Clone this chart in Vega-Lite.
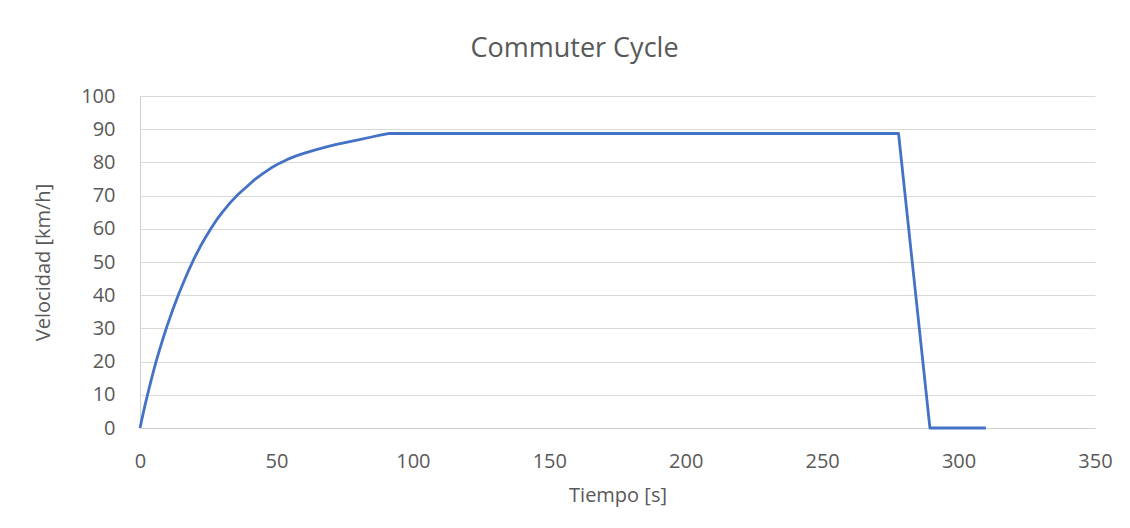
{
  "$schema": "https://vega.github.io/schema/vega-lite/v6.json",
  "width": 955,
  "height": 332,
  "autosize": {"type": "none"},
  "padding": {"left": 140, "top": 96, "right": 35, "bottom": 100},
  "background": "white",
  "title": {
    "text": "Commuter Cycle",
    "font": "Open Sans",
    "fontSize": 27,
    "fontWeight": "normal",
    "color": "#595959",
    "anchor": "middle",
    "baseline": "alphabetic",
    "dx": -43,
    "offset": 2
  },
  "data": {
    "values": [
      {"t": 0, "v": 0},
      {"t": 1, "v": 3.8},
      {"t": 2, "v": 7.4},
      {"t": 3, "v": 10.8},
      {"t": 4, "v": 14.1},
      {"t": 5, "v": 17.3},
      {"t": 6, "v": 20.3},
      {"t": 7, "v": 23.1},
      {"t": 8, "v": 25.8},
      {"t": 9, "v": 28.4},
      {"t": 10, "v": 30.9},
      {"t": 12, "v": 35.6},
      {"t": 14, "v": 40.0},
      {"t": 16, "v": 44.0},
      {"t": 18, "v": 47.8},
      {"t": 20, "v": 51.3},
      {"t": 22, "v": 54.5},
      {"t": 24, "v": 57.4},
      {"t": 26, "v": 60.1},
      {"t": 28, "v": 62.6},
      {"t": 30, "v": 64.8},
      {"t": 33, "v": 67.8},
      {"t": 36, "v": 70.4},
      {"t": 39, "v": 72.6},
      {"t": 42, "v": 74.8},
      {"t": 45, "v": 76.6},
      {"t": 48, "v": 78.3},
      {"t": 51, "v": 79.7},
      {"t": 54, "v": 80.9},
      {"t": 57, "v": 81.9},
      {"t": 60, "v": 82.7},
      {"t": 64, "v": 83.7},
      {"t": 68, "v": 84.6},
      {"t": 72, "v": 85.4},
      {"t": 76, "v": 86.1},
      {"t": 80, "v": 86.8},
      {"t": 84, "v": 87.5},
      {"t": 88, "v": 88.2},
      {"t": 91, "v": 88.7},
      {"t": 278, "v": 88.7},
      {"t": 289.5, "v": 0},
      {"t": 310, "v": 0}
    ]
  },
  "mark": {"type": "line", "color": "#4472C4", "strokeWidth": 2.8, "interpolate": "linear", "strokeJoin": "round", "clip": false},
  "encoding": {
    "x": {
      "field": "t",
      "type": "quantitative",
      "scale": {"domain": [0, 350], "nice": false, "zero": false},
      "axis": {
        "title": "Tiempo [s]",
        "values": [0, 50, 100, 150, 200, 250, 300, 350],
        "grid": false,
        "ticks": false,
        "domainColor": "#d0d0d0",
        "domainWidth": 1,
        "labelFont": "Open Sans",
        "labelFontSize": 20,
        "labelColor": "#595959",
        "labelPadding": 39,
        "labelBaseline": "alphabetic",
        "labelFlush": false,
        "labelOverlap": false,
        "titleFont": "Open Sans",
        "titleFontSize": 20,
        "titleFontWeight": "normal",
        "titleColor": "#595959",
        "titleBaseline": "alphabetic",
        "titleX": 477.5,
        "titleY": 73
      }
    },
    "y": {
      "field": "v",
      "type": "quantitative",
      "scale": {"domain": [0, 100], "nice": false},
      "axis": {
        "title": "Velocidad [km/h]",
        "values": [0, 10, 20, 30, 40, 50, 60, 70, 80, 90, 100],
        "grid": true,
        "gridColor": "#d9d9d9",
        "gridWidth": 1,
        "ticks": false,
        "domainColor": "#d0d0d0",
        "domainWidth": 1,
        "labelFont": "Open Sans",
        "labelFontSize": 20,
        "labelColor": "#595959",
        "labelPadding": 25,
        "labelFlush": false,
        "labelOverlap": false,
        "titleFont": "Open Sans",
        "titleFontSize": 20,
        "titleFontWeight": "normal",
        "titleColor": "#595959",
        "titleAngle": 270,
        "titleAlign": "center",
        "titleBaseline": "alphabetic",
        "titleX": -91,
        "titleY": 166
      }
    }
  },
  "config": {"view": {"stroke": null}}
}
